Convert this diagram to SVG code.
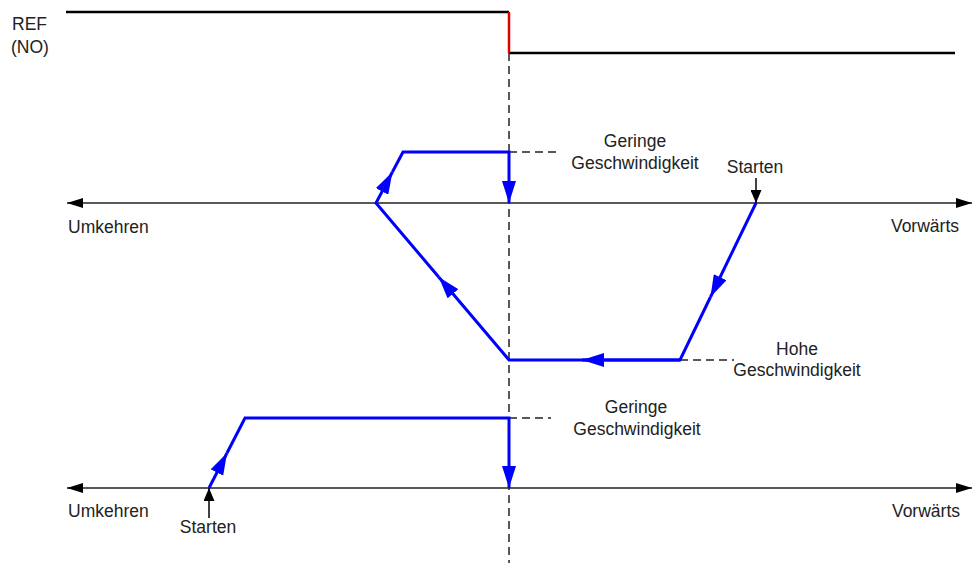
<svg xmlns="http://www.w3.org/2000/svg" width="976" height="563" viewBox="0 0 976 563">
<defs>
<marker id="blk" viewBox="0 0 16 10" refX="16" refY="5" markerWidth="16" markerHeight="10" markerUnits="userSpaceOnUse" orient="auto"><path d="M0,0 L16,5 L0,10 Z" fill="#000"/></marker>
<marker id="sblk" viewBox="0 0 13 11" refX="13" refY="5.5" markerWidth="13" markerHeight="11" markerUnits="userSpaceOnUse" orient="auto"><path d="M0,0 L13,5.5 L0,11 Z" fill="#000"/></marker>
<marker id="blu" viewBox="0 0 22 14" refX="22" refY="7" markerWidth="22" markerHeight="14" markerUnits="userSpaceOnUse" orient="auto"><path d="M0,0 L22,7 L0,14 Z" fill="#0000ff"/></marker>
</defs>
<style>
text{font-family:"Liberation Sans",Arial,sans-serif;font-size:17.5px;fill:#222}
.sig{stroke:#000;stroke-width:2.5;fill:none}
.axis{stroke:#222;stroke-width:1.5;fill:none}
.dash{stroke:#222;stroke-width:1.5;stroke-dasharray:8,5;fill:none}
.blue{stroke:#0000ff;stroke-width:3;fill:none;stroke-linejoin:miter}
.ptr{stroke:#000;stroke-width:1.5;fill:none}
</style>
<rect width="976" height="563" fill="#fff"/>
<g id="ref-signal">
<text x="12" y="30">REF</text>
<text x="11" y="53">(NO)</text>
<path class="sig" d="M66,12 H509"/>
<path class="sig" d="M509,53 H955"/>
<path d="M509,12 V53" stroke="#e00000" stroke-width="2.5"/>
</g>
<g id="connectors">
<path class="dash" d="M509,53 V563"/>
<path class="dash" d="M509,152 H556"/>
<path class="dash" d="M680,360 H734"/>
<path class="dash" d="M509,418 H551"/>
</g>
<g id="axis-1">
<path class="axis" d="M509,203 H67" marker-end="url(#blk)"/>
<path class="axis" d="M509,203 H972" marker-end="url(#blk)"/>
<text x="68" y="233">Umkehren</text>
<text x="959" y="232" text-anchor="end">Vorwärts</text>
</g>
<g id="axis-2">
<path class="axis" d="M509,488 H67" marker-end="url(#blk)"/>
<path class="axis" d="M509,488 H972" marker-end="url(#blk)"/>
<text x="68" y="517">Umkehren</text>
<text x="960" y="517" text-anchor="end">Vorwärts</text>
</g>
<g id="path-1">
<path class="blue" d="M756,203 L710.5,297" marker-end="url(#blu)"/>
<path class="blue" d="M710.5,297 L680,360 H582"/>
<path class="blue" d="M680,360 H582" marker-end="url(#blu)"/>
<path class="blue" d="M582,360 H509 L438.7,277" marker-end="url(#blu)"/>
<path class="blue" d="M438.7,277 L376,203 L392.4,172" marker-end="url(#blu)"/>
<path class="blue" d="M392.4,172 L403,152 H509 V203" marker-end="url(#blu)"/>
</g>
<g id="path-2">
<path class="blue" d="M209,488 L227,453" marker-end="url(#blu)"/>
<path class="blue" d="M227,453 L245,418 H509 V488" marker-end="url(#blu)"/>
</g>
<g id="label-geringe-1">
<text x="635" y="147" text-anchor="middle">Geringe</text>
<text x="635" y="169" text-anchor="middle">Geschwindigkeit</text>
</g>
<g id="label-hohe">
<text x="797" y="355" text-anchor="middle">Hohe</text>
<text x="797" y="376" text-anchor="middle">Geschwindigkeit</text>
</g>
<g id="label-geringe-2">
<text x="636" y="413" text-anchor="middle">Geringe</text>
<text x="637" y="435" text-anchor="middle">Geschwindigkeit</text>
</g>
<g id="start-1">
<text x="755" y="173" text-anchor="middle">Starten</text>
<path class="ptr" d="M756,178 V203" marker-end="url(#sblk)"/>
</g>
<g id="start-2">
<text x="208" y="533" text-anchor="middle">Starten</text>
<path class="ptr" d="M209,518 V488" marker-end="url(#sblk)"/>
</g>
</svg>
